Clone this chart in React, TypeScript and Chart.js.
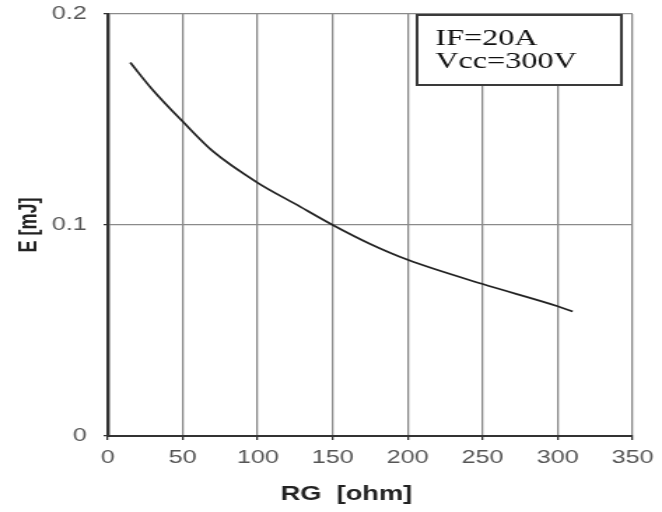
import React, { useEffect, useRef } from "react";
import { Chart, registerables } from "chart.js";

Chart.register(...registerables);

// Gate resistance (ohm) vs. switching energy (mJ)
const rgOhm = [15, 30, 50, 70, 100, 125, 150, 175, 200, 250, 300, 310];
const energyMJ = [0.177, 0.164, 0.149, 0.135, 0.12, 0.11, 0.1, 0.091, 0.0835, 0.072, 0.0615, 0.059];

const xTicks = [0, 50, 100, 150, 200, 250, 300, 350];
const yTicks = [0, 0.1, 0.2];
const conditionLines = ["IF=20A", "Vcc=300V"];
const xTitle = "RG  [ohm]";
const yTitle = "E [mJ]";

// The drawing surface is rendered narrower and stretched horizontally on screen.
const STRETCH = 1.4;
const DISPLAY_W = 662;
const DISPLAY_H = 512;
const CANVAS_W = Math.round(DISPLAY_W / STRETCH);

const sans = "'Liberation Sans', Arial, sans-serif";

const annotations = {
  id: "annotations",
  afterDraw(chart: any) {
    const { ctx, chartArea } = chart;
    ctx.save();

    // condition box in the upper right corner
    const x = 298, y = 15, w = 146, h = 70;
    ctx.fillStyle = "#ffffff";
    ctx.fillRect(x, y, w, h);
    ctx.strokeStyle = "#3a3a3a";
    ctx.lineWidth = 2;
    ctx.strokeRect(x, y, w, h);
    ctx.fillStyle = "#111111";
    ctx.font = "23px 'Liberation Serif', 'Times New Roman', serif";
    ctx.textBaseline = "alphabetic";
    ctx.textAlign = "left";
    conditionLines.forEach((t, i) => ctx.fillText(t, x + 13, y + 30 + i * 23));

    // x axis title
    ctx.fillStyle = "#222222";
    ctx.font = `bold 19.5px ${sans}`;
    ctx.textAlign = "center";
    ctx.textBaseline = "middle";
    ctx.fillText(xTitle, (chartArea.left + chartArea.right) / 2 - 17, 495);

    ctx.restore();
  },
};

export default function App() {
  const ref = useRef<HTMLCanvasElement>(null);

  useEffect(() => {
    if (!ref.current) return;
    const chart = new Chart(ref.current, {
      type: "scatter",
      data: {
        datasets: [
          {
            data: rgOhm.map((x, i) => ({ x, y: energyMJ[i] })),
            showLine: true,
            borderColor: "#222222",
            borderWidth: 1.7,
            pointRadius: 0,
            cubicInterpolationMode: "monotone",
          },
        ],
      },
      options: {
        animation: false,
        responsive: false,
        devicePixelRatio: 1,
        layout: { padding: { top: 14, right: 21, left: 0, bottom: 0 } },
        plugins: { legend: { display: false }, tooltip: { enabled: false } },
        scales: {
          x: {
            type: "linear",
            min: 0,
            max: 350,
            afterBuildTicks: (s: any) => {
              s.ticks = xTicks.map((v) => ({ value: v }));
            },
            afterFit: (s: any) => {
              s.height = 76;
              s.paddingLeft = 0;
              s.paddingRight = 0;
            },
            grid: {
              color: "#8a8a8a",
              lineWidth: 1.3,
              tickLength: 4,
              tickColor: "#333333",
            },
            border: { color: "#333333", width: 2 },
            ticks: {
              color: "#555555",
              font: { size: 18, family: sans },
              padding: 7,
            },
          },
          y: {
            type: "linear",
            min: 0,
            max: 0.2,
            afterBuildTicks: (s: any) => {
              s.ticks = yTicks.map((v) => ({ value: v }));
            },
            afterFit: (s: any) => {
              s.width = 77;
              s.paddingTop = 0;
              s.paddingBottom = 0;
            },
            grid: {
              color: "#8a8a8a",
              lineWidth: 1.2,
              tickLength: 3,
              tickColor: "#333333",
            },
            border: { color: "#333333", width: 2.4 },
            ticks: {
              color: "#555555",
              font: { size: 18, family: sans },
              padding: 12,
              callback: (v: any) => String(v),
            },
            title: {
              display: true,
              text: yTitle,
              color: "#222222",
              font: { size: 18, weight: "bold", family: sans },
              padding: { top: 10, bottom: 0 },
            },
          },
        },
      },
      plugins: [annotations],
    });
    return () => chart.destroy();
  }, []);

  return (
    <div style={{ position: "fixed", left: 0, top: 0, width: DISPLAY_W, height: DISPLAY_H, background: "#fff" }}>
      <canvas
        ref={ref}
        width={CANVAS_W}
        height={DISPLAY_H}
        style={{ width: `${DISPLAY_W}px`, height: `${DISPLAY_H}px`, display: "block" }}
      />
    </div>
  );
}
